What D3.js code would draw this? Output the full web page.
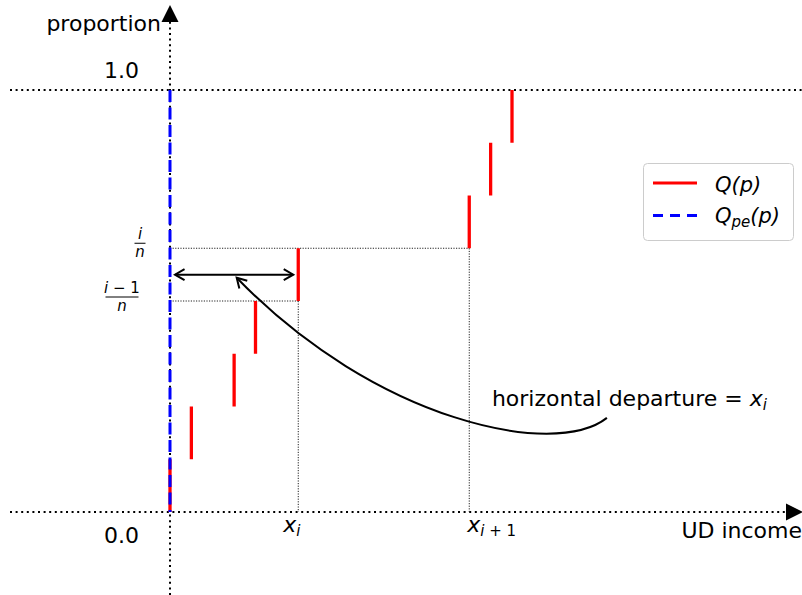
<!DOCTYPE html>
<html>
<head>
<meta charset="utf-8">
<script src="https://cdn.jsdelivr.net/npm/d3@7/dist/d3.min.js"></script>
<style>
  html, body { margin: 0; padding: 0; background: #fff; }
  svg { display: block; }
  text { font-family: "DejaVu Sans", sans-serif; fill: #000; }
  .math { font-style: italic; }
</style>
</head>
<body>
<svg id="chart" width="802" height="595"></svg>
<script>
// Empirical quantile function Q(p): jump points of UD income, n = 8 observations
const incomes = [0, 1, 3, 4, 6, 14, 15, 16];
const n = 8;
// proportions bounding each step
const pLower = [0, 1, 2, 3, 4, 5, 6, 7].map(k => k / n);
const pUpper = [1, 2, 3, 4, 5, 6, 7, 8].map(k => k / n);
// perfect-equality quantile Q_pe(p): zero income for every p
const qpe = [[0, 0], [0, 1]];
// the highlighted observation i (1-based)
const iObs = 5;
const yTickLabels = ["0.0", "1.0"];
const annotationText = "horizontal departure = ";

const svg = d3.select("#chart");
const W = 802, H = 595;

const x = d3.scaleLinear().domain([0, 16]).range([170, 512]);
const y = d3.scaleLinear().domain([0, 1]).range([512, 90]);

const xLeft = x.invert(10), xRight = x.invert(786);
const yBottom = y.invert(595), yTop = y.invert(22);

// --- dotted axes and the p = 1 reference line ---
const dotted = { stroke: "#000", width: 2, dash: "2,3.6" };
function line(x1, y1, x2, y2, st) {
  return svg.append("line")
    .attr("x1", x1).attr("y1", y1).attr("x2", x2).attr("y2", y2)
    .attr("stroke", st.stroke).attr("stroke-width", st.width)
    .attr("stroke-dasharray", st.dash || null)
    .attr("stroke-linecap", st.cap || "butt");
}
line(x(xLeft), y(1), W, y(1), dotted);
line(x(xLeft), y(0), x(xRight), y(0), dotted);
line(x(0), y(yBottom), x(0), y(yTop), dotted);

// axis arrow heads
svg.append("path")
  .attr("d", `M${x(xRight)},${y(0) - 8.5} L${x(xRight) + 17},${y(0)} L${x(xRight)},${y(0) + 8.5} Z`)
  .attr("fill", "#000");
svg.append("path")
  .attr("d", `M${x(0) - 8.5},${y(yTop)} L${x(0)},${y(yTop) - 17} L${x(0) + 8.5},${y(yTop)} Z`)
  .attr("fill", "#000");

// --- thin guide lines for x_i and x_{i+1} ---
const thin = { stroke: "#222", width: 1, dash: "1.2,1.4" };
const xi = incomes[iObs - 1], xi1 = incomes[iObs];
line(x(0), y(pUpper[iObs - 1]), x(xi1), y(pUpper[iObs - 1]), thin);
line(x(0), y(pLower[iObs - 1]), x(xi), y(pLower[iObs - 1]), thin);
line(x(xi), y(pLower[iObs - 1]), x(xi), y(0), thin);
line(x(xi1), y(pLower[iObs]), x(xi1), y(0), thin);

// --- Q(p) steps ---
svg.append("g").selectAll("line")
  .data(incomes.map((v, k) => ({ v, lo: pLower[k], hi: pUpper[k] })))
  .join("line")
  .attr("x1", d => x(d.v)).attr("x2", d => x(d.v))
  .attr("y1", d => y(d.lo)).attr("y2", d => y(d.hi))
  .attr("stroke", "#ff0000").attr("stroke-width", 3.3);

// --- Q_pe(p) ---
svg.append("path")
  .attr("d", d3.line().x(d => x(d[0])).y(d => y(d[1]))(qpe.slice().reverse()))
  .attr("fill", "none").attr("stroke", "#0000ff").attr("stroke-width", 3)
  .attr("stroke-dasharray", "12,5.5");

// --- horizontal double arrow at mid step ---
const pMid = (pLower[iObs - 1] + pUpper[iObs - 1]) / 2;
const ax1 = x(0) + 5, ax2 = x(xi) - 5, ay = y(pMid);
line(ax1, ay, ax2, ay, { stroke: "#000", width: 2 });
function openHead(tipX, tipY, angle) {
  const L = 11, a = Math.PI / 6;
  const p1 = [tipX - L * Math.cos(angle - a), tipY - L * Math.sin(angle - a)];
  const p2 = [tipX - L * Math.cos(angle + a), tipY - L * Math.sin(angle + a)];
  svg.append("path")
    .attr("d", `M${p1[0]},${p1[1]} L${tipX},${tipY} L${p2[0]},${p2[1]}`)
    .attr("fill", "none").attr("stroke", "#000").attr("stroke-width", 2)
    .attr("stroke-linejoin", "miter");
}
openHead(ax1, ay, Math.PI);
openHead(ax2, ay, 0);

// --- curved annotation arrow ---
const from = [x(20.44), y(0.223)];
const to = [x(3.12), y(0.555)];
const c1 = [x(18.0), y(0.125)];
const c2 = [x(9.6), y(0.215)];
svg.append("path")
  .attr("d", `M${from[0]},${from[1]} C${c1[0]},${c1[1]} ${c2[0]},${c2[1]} ${to[0]},${to[1]}`)
  .attr("fill", "none").attr("stroke", "#000").attr("stroke-width", 2);
openHead(to[0], to[1], Math.atan2(to[1] - c2[1], to[0] - c2[0]));

// annotation text
const ann = svg.append("text")
  .attr("x", x(15.06)).attr("y", y(0.251))
  .attr("font-size", 22);
ann.append("tspan").text(annotationText);
ann.append("tspan").attr("class", "math").text("x");
ann.append("tspan").attr("class", "math").attr("font-size", 15).attr("dy", 4).text("i");

// --- axis labels ---
svg.append("text").attr("x", 161).attr("y", 31).attr("text-anchor", "end")
  .attr("font-size", 22).text("proportion");
svg.append("text").attr("x", 802).attr("y", 538).attr("text-anchor", "end")
  .attr("font-size", 22).text("UD income");

// tick labels
svg.append("text").attr("x", 139).attr("y", y(1) - 12).attr("text-anchor", "end")
  .attr("font-size", 22).text(yTickLabels[1]);
svg.append("text").attr("x", 139).attr("y", y(0) + 31).attr("text-anchor", "end")
  .attr("font-size", 22).text(yTickLabels[0]);

// x_i and x_{i+1}
const lx = svg.append("text").attr("x", x(xi) - 15).attr("y", y(0) + 20).attr("font-size", 22);
lx.append("tspan").attr("class", "math").text("x");
lx.append("tspan").attr("class", "math").attr("font-size", 15).attr("dy", 4).text("i");
const lx1 = svg.append("text").attr("x", x(xi1) - 2).attr("y", y(0) + 20).attr("font-size", 22);
lx1.append("tspan").attr("class", "math").text("x");
lx1.append("tspan").attr("font-size", 15).attr("dy", 4)
  .html('<tspan class="math">i</tspan> + 1');

// fraction labels i/n and (i-1)/n
function fraction(cx, barY, top, width) {
  svg.append("text").attr("x", cx).attr("y", barY - 4).attr("text-anchor", "middle")
    .attr("font-size", 15).html(top);
  svg.append("text").attr("class", "math").attr("x", cx).attr("y", barY + 13.5)
    .attr("text-anchor", "middle").attr("font-size", 15).text("n");
  svg.append("line").attr("x1", cx - width / 2).attr("x2", cx + width / 2)
    .attr("y1", barY).attr("y2", barY).attr("stroke", "#000").attr("stroke-width", 1);
}
fraction(140, y(pUpper[iObs - 1]) - 5, '<tspan class="math">i</tspan>', 11);
fraction(122, y(pLower[iObs - 1]) - 4, '<tspan class="math">i</tspan> − 1', 33);

// --- legend ---
const lg = svg.append("g").attr("transform", "translate(643.5,163.5)");
lg.append("rect").attr("width", 150).attr("height", 77).attr("rx", 4)
  .attr("fill", "#fff").attr("fill-opacity", 0.8).attr("stroke", "#cccccc").attr("stroke-width", 1);
lg.append("line").attr("x1", 9.5).attr("x2", 53.5).attr("y1", 19.5).attr("y2", 19.5)
  .attr("stroke", "#ff0000").attr("stroke-width", 3);
lg.append("line").attr("x1", 9.5).attr("x2", 53.5).attr("y1", 52).attr("y2", 52)
  .attr("stroke", "#0000ff").attr("stroke-width", 3).attr("stroke-dasharray", "10,7");
lg.append("text").attr("x", 71.5).attr("y", 28).attr("font-size", 21).attr("class", "math").text("Q(p)");
const q2 = lg.append("text").attr("x", 71.5).attr("y", 59.5).attr("font-size", 21).attr("class", "math");
q2.append("tspan").text("Q");
q2.append("tspan").attr("font-size", 15).attr("dy", 4).text("pe");
q2.append("tspan").attr("dy", -4).text("(p)");
</script>
</body>
</html>
